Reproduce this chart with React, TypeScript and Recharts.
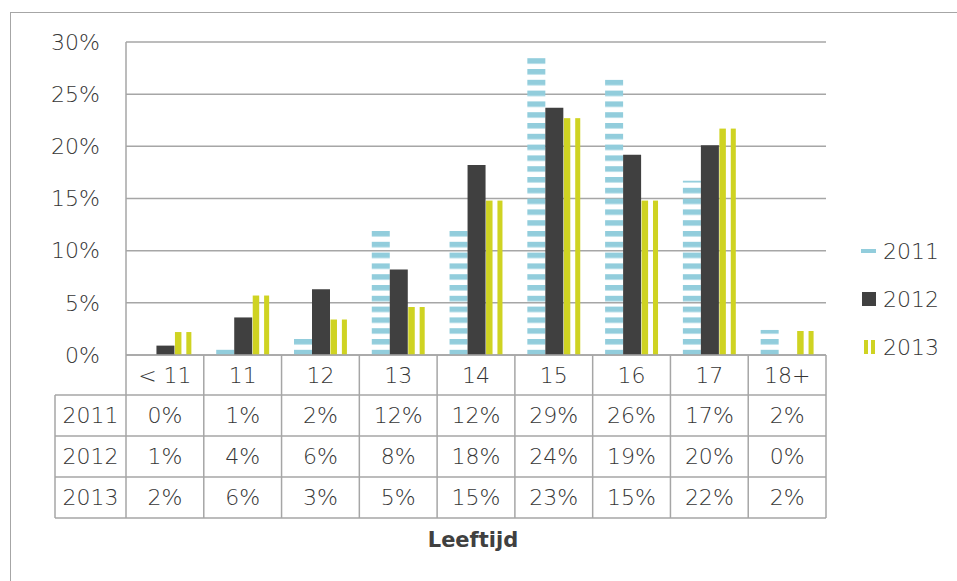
import React from 'react';
import { BarChart, Bar, XAxis, YAxis, CartesianGrid, Legend } from 'recharts';

const categories = ['< 11', '11', '12', '13', '14', '15', '16', '17', '18+'];
const years = ['2011', '2012', '2013'];
const values2011 = [0, 0.6, 1.6, 11.9, 11.9, 28.6, 26.4, 16.7, 2.4];
const values2012 = [0.9, 3.6, 6.3, 8.2, 18.2, 23.7, 19.2, 20.1, 0];
const values2013 = [2.2, 5.7, 3.4, 4.6, 14.8, 22.7, 14.8, 21.7, 2.3];
const yTicks = [0, 5, 10, 15, 20, 25, 30];
const xTitle = 'Leeftijd';

const seriesValues = [values2011, values2012, values2013];
const data = categories.map((c, i) => ({
  cat: c,
  y2011: values2011[i],
  y2012: values2012[i],
  y2013: values2013[i],
}));

const W = 957;
const H = 581;
const PLOT_L = 126;
const PLOT_R = 826;
const PLOT_B = 355;
const TABLE_L = 55;
const ROWS = [355, 395, 436, 477, 518];
const COL_W = (PLOT_R - PLOT_L) / categories.length;
const GRID = '#A6A6A6';
const TEXT = '#363636';
const FONT = '"DejaVu Sans", sans-serif';
const FW = 200;
const BLUE = '#92CDDC';
const DARK = '#404040';
const YELLOW = '#CFD322';

function TableTick(props: any) {
  const { x, index, payload } = props;
  const left = x - COL_W / 2;
  const right = x + COL_W / 2;
  const isLast = index === categories.length - 1;
  const textProps = { fill: TEXT, fontSize: 22, fontWeight: FW, fontFamily: FONT, textAnchor: 'middle' as const, dominantBaseline: 'central' as const };
  return (
    <g>
      <line x1={left} x2={left} y1={ROWS[0]} y2={ROWS[4]} stroke={GRID} strokeWidth={1.5} />
      {isLast && <line x1={right} x2={right} y1={ROWS[0]} y2={ROWS[4]} stroke={GRID} strokeWidth={1.5} />}
      <text x={x} y={(ROWS[0] + ROWS[1]) / 2} {...textProps}>{payload.value}</text>
      {seriesValues.map((vals, r) => (
        <text key={r} x={x} y={(ROWS[r + 1] + ROWS[r + 2]) / 2} {...textProps}>
          {Math.round(vals[index])}%
        </text>
      ))}
      {index === 0 && (
        <g>
          {ROWS.slice(1).map((ry, k) => (
            <line key={k} x1={TABLE_L} x2={PLOT_R} y1={ry} y2={ry} stroke={GRID} strokeWidth={1.5} />
          ))}
          <line x1={TABLE_L} x2={TABLE_L} y1={ROWS[1]} y2={ROWS[4]} stroke={GRID} strokeWidth={1.5} />
          {years.map((yr, r) => (
            <text key={yr} x={(TABLE_L + PLOT_L) / 2} y={(ROWS[r + 1] + ROWS[r + 2]) / 2} {...textProps}>
              {yr}
            </text>
          ))}
          <text x={473} y={547} fill={DARK} fontSize={21} fontWeight={700} fontFamily={FONT} textAnchor="middle">
            {xTitle}
          </text>
        </g>
      )}
    </g>
  );
}

function VStripeBar(props: any) {
  const { x, y, width, height } = props;
  if (!height || height <= 0) return null;
  return (
    <g>
      <rect x={x + 0.5} y={y} width={width * 0.36} height={height} fill={YELLOW} />
      <rect x={x + width * 0.66} y={y} width={width * 0.28} height={height} fill={YELLOW} />
    </g>
  );
}

function LegendContent(props: any) {
  const payload = props.payload || [];
  return (
    <div style={{ fontFamily: FONT, fontWeight: FW, fontSize: 22, color: TEXT }}>
      {payload.map((p: any, i: number) => (
        <div key={p.value} style={{ display: 'flex', alignItems: 'center', height: 48 }}>
          <svg width={22} height={16} style={{ marginRight: 3 }}>
            {i === 0 && <rect x={3} y={6} width={15} height={4} fill={BLUE} />}
            {i === 1 && <rect x={4} y={1} width={14} height={14} fill={DARK} />}
            {i === 2 && (
              <g>
                <rect x={6} y={1} width={4} height={14} fill={YELLOW} />
                <rect x={13} y={1} width={4} height={14} fill={YELLOW} />
              </g>
            )}
          </svg>
          <span>{p.value}</span>
        </div>
      ))}
    </div>
  );
}

export default function App() {
  return (
    <div style={{ position: 'absolute', left: 0, top: 0, width: W, height: H, overflow: 'hidden', background: '#fff' }}>
      <div style={{ position: 'absolute', left: 10, top: 12, width: 980, height: 600, border: `1.5px solid ${GRID}` }} />
      <BarChart
        width={W}
        height={H}
        data={data}
        margin={{ top: 42, right: W - PLOT_R, bottom: H - PLOT_B - 170, left: 10 }}
        barCategoryGap="16%"
        barGap={0}
      >
        <defs>
          <pattern id="p2011" patternUnits="userSpaceOnUse" x={0} y={4.2} width={10} height={10.8}>
            <rect x={0} y={0} width={10} height={5.5} fill={BLUE} />
          </pattern>
        </defs>
        <CartesianGrid vertical={false} stroke={GRID} strokeWidth={1.5} />
        <YAxis
          width={116}
          domain={[0, 30]}
          ticks={yTicks}
          tickFormatter={(v: number) => `${v}%`}
          axisLine={{ stroke: GRID, strokeWidth: 1.5 }}
          tickLine={false}
          tickSize={0}
          tickMargin={26}
          tick={{ fill: TEXT, fontSize: 22, fontWeight: FW, fontFamily: FONT }}
        />
        <XAxis
          dataKey="cat"
          height={170}
          interval={0}
          axisLine={{ stroke: GRID, strokeWidth: 1.5 }}
          tickLine={false}
          tick={<TableTick />}
        />
        <Legend
          layout="horizontal"
          align="center"
          verticalAlign="middle"
          content={<LegendContent />}
          wrapperStyle={{ left: 858, top: 227, width: 100 }}
        />
        <Bar dataKey="y2011" name="2011" fill="url(#p2011)" isAnimationActive={false} />
        <Bar dataKey="y2012" name="2012" fill={DARK} isAnimationActive={false} />
        <Bar dataKey="y2013" name="2013" fill={YELLOW} shape={<VStripeBar />} isAnimationActive={false} />
      </BarChart>
    </div>
  );
}
